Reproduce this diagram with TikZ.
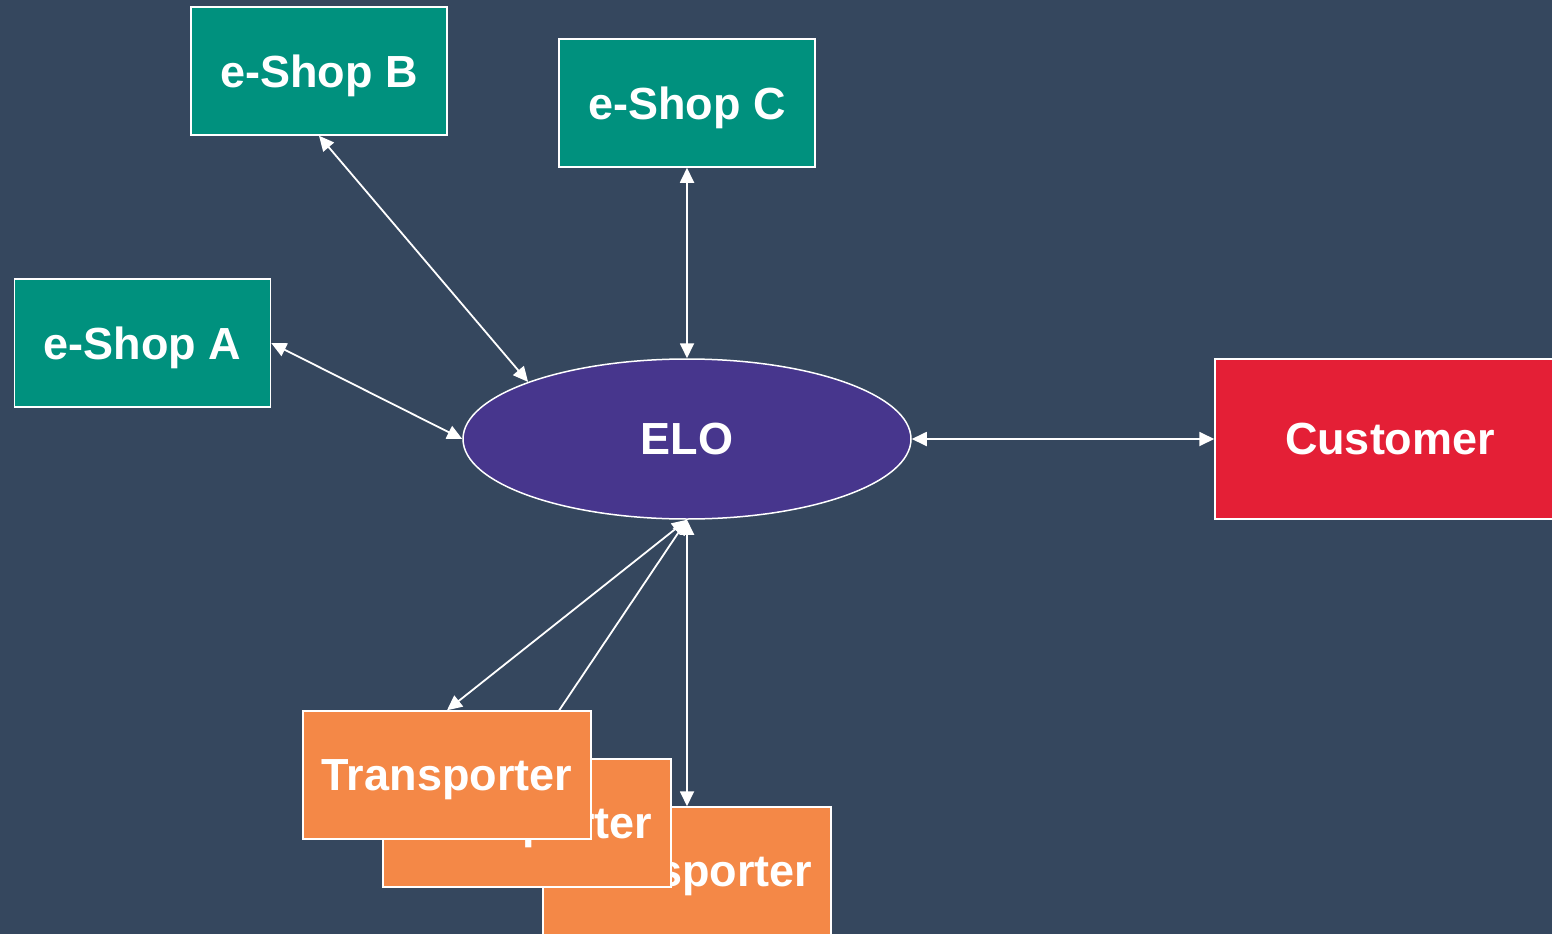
\documentclass[tikz,border=0pt]{standalone}
\usepackage{fontspec}
\setmainfont{Liberation Sans}
\usetikzlibrary{shapes.geometric,arrows.meta}
\definecolor{bg}{HTML}{35475E}
\definecolor{shop}{HTML}{00917E}
\definecolor{elo}{HTML}{47368D}
\definecolor{cust}{HTML}{E41F36}
\definecolor{trans}{HTML}{F48847}
\tikzset{
  box/.style={draw=white, line width=1.5pt, rectangle, inner sep=0pt, text=white,
    text depth=0pt, font=\bfseries\fontsize{45}{54}\selectfont},
  shopbox/.style={box, fill=shop, minimum width=256pt, minimum height=128pt},
  transbox/.style={box, fill=trans, minimum width=288pt, minimum height=128pt},
  link/.style={draw=white, line width=1.8pt, {Triangle[length=15pt,width=14pt]}-{Triangle[length=15pt,width=14pt]}}
}
\begin{document}
\begin{tikzpicture}[x=1pt,y=-1pt]
\fill[bg] (0,0) rectangle (1552,934);
\useasboundingbox (0,0) rectangle (1552,934);
\clip (0,0) rectangle (1552,934);
\node[shopbox] (eB) at (319,71) {e-Shop B};
\node[shopbox] (eC) at (687,103) {e-Shop C};
\node[shopbox] (eA) at (142.5,343) {e-Shop A};
\node[box, ellipse, fill=elo, minimum width=448pt, minimum height=160pt] (elo) at (687,439) {ELO};
\node[box, fill=cust, minimum width=350pt, minimum height=160pt] (cust) at (1390,439) {Customer};
\node[transbox] (t3) at (687,871) {Transporter};
\node[transbox] (t2) at (527,823) {Transporter};
\draw[link] (t2.north) -- (elo.south);
\node[transbox] (t1) at (447,775) {Transporter};
\draw[link] (eB.south) -- (elo.north west);
\draw[link] (eC.south) -- (elo.north);
\draw[link] (eA.east) -- (elo.west);
\draw[link] (elo.east) -- (cust.west);
\draw[link] (elo.south) -- (t3.north);
\draw[link] (t1.north) -- (elo.south);
\end{tikzpicture}
\end{document}
